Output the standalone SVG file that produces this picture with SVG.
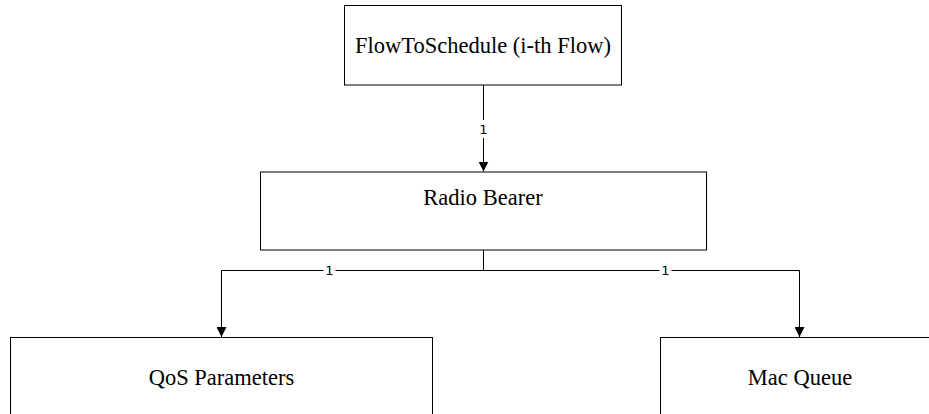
<svg xmlns="http://www.w3.org/2000/svg" width="929" height="414" viewBox="0 0 929 414">
<style>
.box{fill:#fff;stroke:#000;stroke-width:1}
.t{font-family:'Liberation Serif','Times New Roman','DejaVu Serif',serif;font-size:22.5px;fill:#000;text-anchor:middle}
.e{fill:none;stroke:#000;stroke-width:1}
.lb{font-family:'DejaVu Sans',sans-serif;font-size:13px;fill:#000;text-anchor:middle;dominant-baseline:central}
.lbg{fill:#fff}
</style>
<defs>
<marker id="arr" viewBox="0 0 10 10" refX="10" refY="5" markerWidth="10" markerHeight="10" markerUnits="userSpaceOnUse" orient="auto">
<path d="M0,0 L10,5 L0,10 Z" fill="#000"/>
</marker>
</defs>
<rect width="929" height="414" fill="#fff"/>
<g id="connectors">
<path class="e" d="M483.5,85 V171.5" marker-end="url(#arr)"/>
<path class="e" d="M483.5,250 V270.5 H221.5 V337" marker-end="url(#arr)"/>
<path class="e" d="M483.5,270.5 H799.5 V337" marker-end="url(#arr)"/>
<rect class="lbg" x="477.5" y="120" width="12" height="18"/>
<text class="lb" x="483.5" y="129">1</text>
<rect class="lbg" x="323.5" y="263" width="12" height="15"/>
<text class="lb" x="329.5" y="270.5">1</text>
<rect class="lbg" x="659.5" y="263" width="12" height="15"/>
<text class="lb" x="665.5" y="270.5">1</text>
</g>
<g id="flow">
<rect class="box" x="344.5" y="5.5" width="277" height="79.5"/>
<text class="t" x="483" y="52.5">FlowToSchedule (i-th Flow)</text>
</g>
<g id="radio-bearer">
<rect class="box" x="260.5" y="172" width="446" height="78"/>
<text class="t" x="483" y="205">Radio Bearer</text>
</g>
<g id="qos">
<rect class="box" x="10.5" y="337.5" width="422" height="90"/>
<text class="t" x="221.5" y="385">QoS Parameters</text>
</g>
<g id="mac-queue">
<rect class="box" x="660.5" y="337.5" width="280" height="90"/>
<text class="t" x="800" y="385">Mac Queue</text>
</g>
</svg>
